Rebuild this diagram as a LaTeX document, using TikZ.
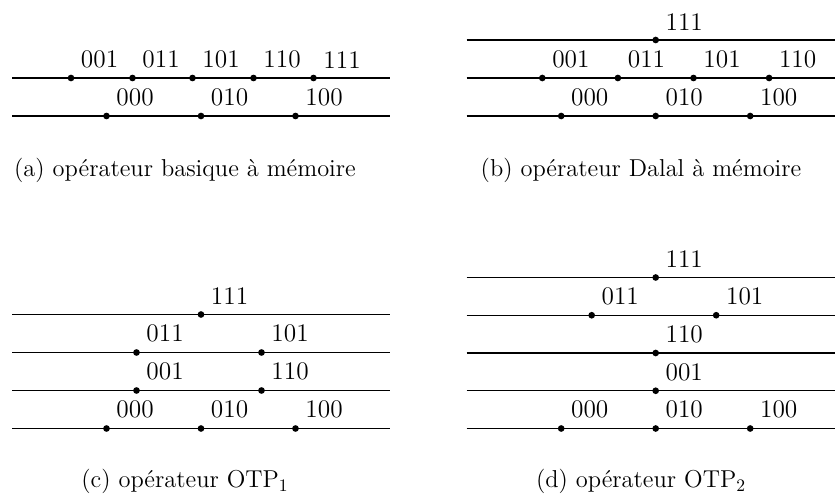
\documentclass[tikz,border=0pt]{standalone}
\usetikzlibrary{positioning}

\tikzset{
    pt/.style={circle, fill, inner sep=0pt, minimum size=3.8pt},
    lbl/.style={inner sep=4pt, font=\fontsize{14.4}{17}\selectfont},
    legende/.style={anchor=base, font=\fontsize{13.9}{16}\selectfont},
    niveau/.style={line width=0.8pt}
}

\begin{document}
\begin{tikzpicture}
    \useasboundingbox (0,0) rectangle (16.7,9.9);
    %
    % (a)
    \begin{scope}[shift={(0.24,7.58)}]
        \foreach \k in {0,1} {
            \coordinate (a\k-w) at (0,\k*0.76);
            \coordinate (a\k-e) at (7.56,\k*0.76);
            \draw[niveau] (a\k-w) -- (a\k-e);
        }
        \foreach \n/\x in {000/1.89, 010/3.78, 100/5.67}
            \node[pt, label={[lbl]above right:\n}] (a\n) at (\x,0) {};
        \foreach \n/\x in {001/1.18, 011/2.41, 101/3.61, 110/4.83, 111/6.03}
            \node[pt, label={[lbl]above right:\n}] (a\n) at (\x,0.76) {};
    \end{scope}
    \node[legende] (lega) at (3.70,6.36) {(a) opérateur basique à mémoire};
    %
    % (b)
    \begin{scope}[shift={(9.334,7.58)}]
        \foreach \k in {0,1,2} {
            \coordinate (b\k-w) at (0,\k*0.76);
            \coordinate (b\k-e) at (7.56,\k*0.76);
            \draw[niveau] (b\k-w) -- (b\k-e);
        }
        \foreach \n/\x in {000/1.89, 010/3.78, 100/5.67}
            \node[pt, label={[lbl]above right:\n}] (b\n) at (\x,0) {};
        \foreach \n/\x in {001/1.512, 011/3.024, 101/4.536, 110/6.048}
            \node[pt, label={[lbl]above right:\n}] (b\n) at (\x,0.76) {};
        \node[pt, label={[lbl]above right:111}] (b111) at (3.78,1.52) {};
    \end{scope}
    \node[legende] (legb) at (12.82,6.36) {(b) opérateur Dalal à mémoire};
    %
    % (c)
    \begin{scope}[shift={(0.24,1.33)}]
        \foreach \k in {0,1,2,3} {
            \coordinate (c\k-w) at (0,\k*0.76);
            \coordinate (c\k-e) at (7.56,\k*0.76);
            \draw[niveau] (c\k-w) -- (c\k-e);
        }
        \foreach \n/\x in {000/1.89, 010/3.78, 100/5.67}
            \node[pt, label={[lbl]above right:\n}] (c\n) at (\x,0) {};
        \foreach \n/\x in {001/2.49, 110/4.99}
            \node[pt, label={[lbl]above right:\n}] (c\n) at (\x,0.76) {};
        \foreach \n/\x in {011/2.49, 101/4.99}
            \node[pt, label={[lbl]above right:\n}] (c\n) at (\x,1.52) {};
        \node[pt, label={[lbl]above right:111}] (c111) at (3.78,2.28) {};
    \end{scope}
    \node[legende] (legc) at (3.70,0.14) {(c) opérateur OTP$_1$};
    %
    % (d)
    \begin{scope}[shift={(9.334,1.33)}]
        \foreach \k in {0,1,2,3,4} {
            \coordinate (d\k-w) at (0,\k*0.755);
            \coordinate (d\k-e) at (7.56,\k*0.755);
            \draw[niveau] (d\k-w) -- (d\k-e);
        }
        \foreach \n/\x in {000/1.89, 010/3.78, 100/5.67}
            \node[pt, label={[lbl]above right:\n}] (d\n) at (\x,0) {};
        \node[pt, label={[lbl]above right:001}] (d001) at (3.78,0.755) {};
        \node[pt, label={[lbl]above right:110}] (d110) at (3.78,1.51) {};
        \foreach \n/\x in {011/2.50, 101/4.99}
            \node[pt, label={[lbl]above right:\n}] (d\n) at (\x,2.265) {};
        \node[pt, label={[lbl]above right:111}] (d111) at (3.78,3.02) {};
    \end{scope}
    \node[legende] (legd) at (12.82,0.14) {(d) opérateur OTP$_2$};
\end{tikzpicture}
\end{document}
